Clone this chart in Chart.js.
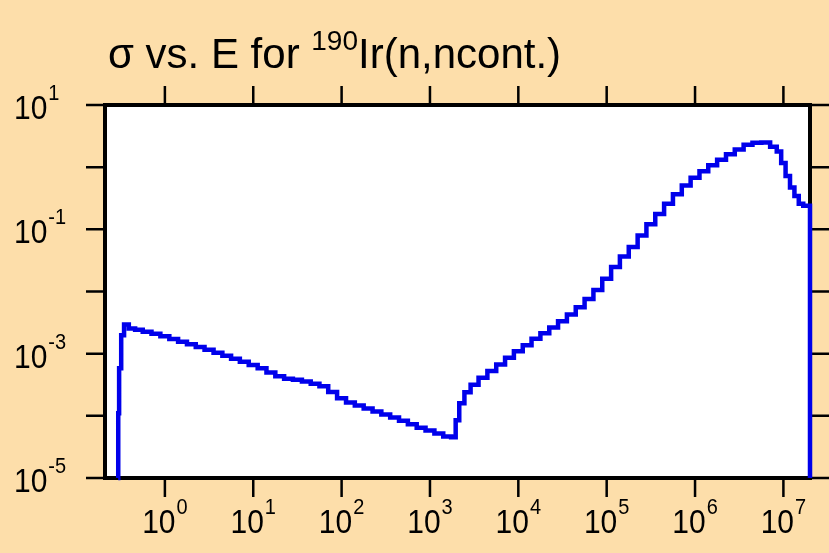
<!DOCTYPE html>
<html>
<head>
<meta charset="utf-8">
<script src="https://cdn.jsdelivr.net/npm/chart.js@4.4.1/dist/chart.umd.min.js"></script>
<style>
  html, body { margin: 0; padding: 0; background: #FDDEAA; }
  #wrap { width: 829px; height: 553px; }
</style>
</head>
<body>
<div id="wrap"><canvas id="xsChart" width="829" height="553"></canvas></div>
<script>
// incident neutron energy (eV)
var energy = [
  0.296, 0.297, 0.31, 0.331, 0.36, 0.424,
  0.5, 0.63, 0.79, 1.0, 1.26, 1.58, 2.0, 2.5, 3.16, 4.0, 5.0, 6.3, 7.9,
  10, 12.6, 15.8, 20, 25, 31.6, 40, 50, 63, 79,
  100, 126, 158, 200, 251, 316, 398, 501, 631, 794,
  1000, 1260, 1585, 1900, 2010, 2290, 2630, 3160, 3980, 5010, 6310, 7940,
  1.0e4, 1.26e4, 1.58e4, 2.0e4, 2.51e4, 3.16e4, 3.98e4, 5.01e4, 6.31e4, 7.94e4,
  1.0e5, 1.26e5, 1.58e5, 2.0e5, 2.51e5, 3.16e5, 3.98e5, 5.01e5, 6.31e5, 7.94e5,
  1.0e6, 1.26e6, 1.58e6, 2.0e6, 2.51e6, 3.16e6, 3.98e6, 5.01e6, 6.31e6, 7.94e6, 8.91e6,
  1.0e7, 1.12e7, 1.26e7, 1.41e7, 1.58e7, 1.78e7, 2.0e7, 2.0e7
];
// cross section (b)
var sigma = [
  1e-5, 1.1e-4, 5.8e-4, 1.97e-3, 2.95e-3, 2.55e-3,
  2.42e-3, 2.25e-3, 2.09e-3, 1.90e-3, 1.72e-3, 1.56e-3, 1.42e-3, 1.28e-3, 1.16e-3, 1.03e-3, 9.3e-4, 8.3e-4, 7.4e-4,
  6.6e-4, 5.8e-4, 5.0e-4, 4.35e-4, 3.96e-4, 3.8e-4, 3.56e-4, 3.27e-4, 2.98e-4, 2.41e-4,
  1.92e-4, 1.64e-4, 1.46e-4, 1.31e-4, 1.17e-4, 1.05e-4, 9.4e-5, 8.3e-5, 7.3e-5, 6.45e-5,
  5.8e-5, 5.2e-5, 4.66e-5, 4.54e-5, 8.5e-5, 1.6e-4, 2.39e-4, 3.15e-4, 4.11e-4, 5.27e-4, 6.7e-4, 8.6e-4,
  1.09e-3, 1.37e-3, 1.73e-3, 2.14e-3, 2.64e-3, 3.33e-3, 4.26e-3, 5.6e-3, 7.6e-3, 1.06e-2,
  1.61e-2, 2.47e-2, 3.67e-2, 5.18e-2, 7.96e-2, 0.121, 0.177, 0.258, 0.366, 0.506,
  0.676, 0.863, 1.07, 1.32, 1.61, 1.93, 2.30, 2.47, 2.50, 2.13, 1.79,
  1.17, 0.72, 0.47, 0.344, 0.259, 0.24, 0.24, 1e-5
];
var xTickExp = [0, 1, 2, 3, 4, 5, 6, 7];
var yTickExp = [1, 0, -1, -2, -3, -4, -5];
var yLabelExp = [1, -1, -3, -5];

var FONT = '"Liberation Sans", Arial, sans-serif';

// text a bit taller than Arial in the original
function tallText(ctx, txt, x, y, size) {
    ctx.save();
    ctx.font = size + 'px ' + FONT;
    ctx.translate(x, y);
    ctx.scale(1, 1.1);
    ctx.fillText(txt, 0, 0);
    ctx.restore();
}

function drawPow(ctx, exp, x, y, align) {
    var base = '10', sup = String(exp);
    ctx.font = '30px ' + FONT;
    var wb = ctx.measureText(base).width;
    ctx.font = '20px ' + FONT;
    var ws = ctx.measureText(sup).width;
    var x0 = align == 'center' ? x - (wb + ws + 1) / 2 : x;
    ctx.textAlign = 'left';
    ctx.textBaseline = 'alphabetic';
    tallText(ctx, base, x0, y, 30);
    tallText(ctx, sup, x0 + wb + 1, y - 19, 20);
}

var framePlugin = {
    id: 'frame',
    beforeDraw: function(chart) {
        var ctx = chart.ctx, a = chart.chartArea;
        ctx.save();
        ctx.fillStyle = '#FDDEAA';
        ctx.fillRect(0, 0, chart.width, chart.height);
        ctx.fillStyle = '#FFFFFF';
        ctx.fillRect(a.left, a.top, a.right - a.left, a.bottom - a.top);
        ctx.restore();
    },
    beforeDatasetsDraw: function(chart) {
        var ctx = chart.ctx, a = chart.chartArea;
        var xs = chart.scales.x, ys = chart.scales.y;
        ctx.save();
        ctx.strokeStyle = '#000';
        ctx.fillStyle = '#000';
        // ticks
        ctx.lineWidth = 2.5;
        ctx.beginPath();
        xTickExp.forEach(function(e) {
            var px = xs.getPixelForValue(Math.pow(10, e));
            ctx.moveTo(px, a.bottom); ctx.lineTo(px, a.bottom + 19);
            ctx.moveTo(px, a.top); ctx.lineTo(px, a.top - 19);
        });
        yTickExp.forEach(function(e) {
            var py = ys.getPixelForValue(Math.pow(10, e));
            ctx.moveTo(a.left, py); ctx.lineTo(a.left - 19, py);
            ctx.moveTo(a.right, py); ctx.lineTo(a.right + 19, py);
        });
        ctx.stroke();
        // frame
        ctx.lineWidth = 4;
        ctx.strokeRect(a.left, a.top, a.right - a.left, a.bottom - a.top);
        // tick labels
        xTickExp.forEach(function(e) {
            drawPow(ctx, e, xs.getPixelForValue(Math.pow(10, e)), a.bottom + 55, 'center');
        });
        yLabelExp.forEach(function(e) {
            drawPow(ctx, e, 14, ys.getPixelForValue(Math.pow(10, e)) + 14, 'left');
        });
        // title
        var tx = 108, ty = 68;
        ctx.font = '42px ' + FONT;
        ctx.fillText('\u03c3 vs. E for ', tx, ty);
        tx += ctx.measureText('\u03c3 vs. E for ').width;
        ctx.font = '28px ' + FONT;
        ctx.fillText('190', tx, ty - 18);
        tx += ctx.measureText('190').width;
        ctx.font = '42px ' + FONT;
        ctx.fillText('Ir(n,ncont.)', tx, ty);
        ctx.restore();
    }
};

var points = [];
for (var i = 0; i < energy.length; i++) {
    points.push({x: energy[i], y: sigma[i]});
}

var ctx = document.getElementById('xsChart').getContext('2d');
var myChart = new Chart(ctx, {
    type: 'line',
    data: {
        datasets: [{
            data: points,
            borderColor: 'rgb(0,0,235)',
            borderWidth: 4.5,
            pointRadius: 0,
            stepped: 'middle',
            fill: false,
            clip: 6
        }]
    },
    options: {
        responsive: false,
        animation: false,
        devicePixelRatio: 1,
        layout: {
            padding: {left: 105, top: 105, right: 19, bottom: 75}
        },
        plugins: {
            legend: {display: false},
            title: {display: false},
            tooltip: {enabled: false}
        },
        scales: {
            x: {type: 'logarithmic', min: 0.21, max: 2e7, display: false},
            y: {type: 'logarithmic', min: 1e-5, max: 10, display: false}
        }
    },
    plugins: [framePlugin]
});
</script>
</body>
</html>
